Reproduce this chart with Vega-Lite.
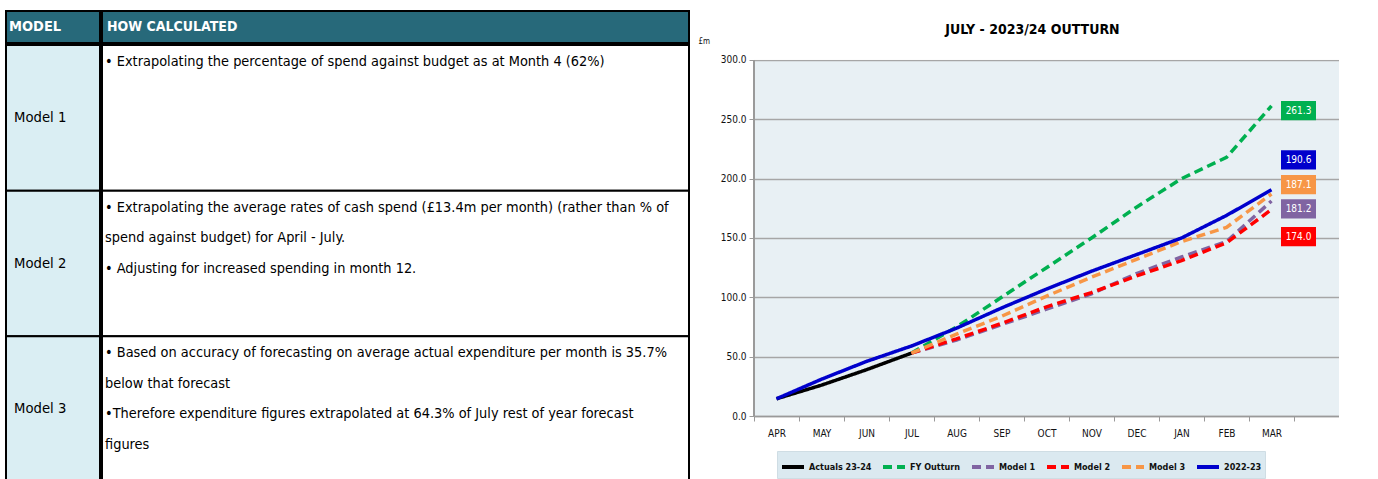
{
  "$schema": "https://vega.github.io/schema/vega-lite/v6.json",
  "background": "white",
  "padding": {"left": 5, "top": 10, "right": 0, "bottom": 0},
  "spacing": 8,
  "config": {
    "font": "DejaVu Sans Condensed, DejaVu Sans, sans-serif",
    "view": {"stroke": null}
  },
  "hconcat": [
    {
      "spacing": 0,
      "vconcat": [
        {
          "spacing": 0,
          "hconcat": [
            {
              "width": 94, "height": 32,
              "view": {"fill": "#27697a", "stroke": "black", "strokeWidth": 2},
              "data": {"values": [{"h": "MODEL"}]},
              "mark": {"type": "text", "align": "left", "baseline": "middle", "color": "white", "fontWeight": "bold", "fontSize": 14.5, "dx": 3},
              "encoding": {
                "x": {"datum": 0, "type": "quantitative", "scale": {"domain": [0, 1]}, "axis": null},
                "text": {"field": "h"}
              }
            },
            {
              "width": 587, "height": 32,
              "view": {"fill": "#27697a", "stroke": "black", "strokeWidth": 2},
              "data": {"values": [{"h": "HOW CALCULATED"}]},
              "mark": {"type": "text", "align": "left", "baseline": "middle", "color": "white", "fontWeight": "bold", "fontSize": 14, "dx": 5},
              "encoding": {
                "x": {"datum": 0, "type": "quantitative", "scale": {"domain": [0, 1]}, "axis": null},
                "text": {"field": "h"}
              }
            }
          ]
        },
        {
          "spacing": 0,
          "hconcat": [
            {
              "width": 94, "height": 437,
              "data": {"values": [{"model": "Model 1"}, {"model": "Model 2"}, {"model": "Model 3"}]},
              "layer": [
                {
                  "mark": {"type": "rect", "fill": "#daeef3", "stroke": "black", "strokeWidth": 2},
                  "encoding": {
                    "y": {"field": "model", "type": "nominal", "scale": {"paddingInner": 0, "paddingOuter": 0}, "axis": null}
                  }
                },
                {
                  "mark": {"type": "text", "align": "left", "baseline": "middle", "fontSize": 14.7, "color": "black", "dx": 8},
                  "encoding": {
                    "y": {"field": "model", "type": "nominal", "axis": null},
                    "x": {"datum": 0, "type": "quantitative", "scale": {"domain": [0, 1]}, "axis": null},
                    "text": {"field": "model"}
                  }
                }
              ]
            },
            {
              "width": 587, "height": 437,
              "data": {"values": [
                {"model": "Model 1", "desc": "• Extrapolating the percentage of spend against budget as at Month 4 (62%)"},
                {"model": "Model 2", "desc": "• Extrapolating the average rates of cash spend (£13.4m per month) (rather than % of\nspend against budget) for April - July.\n• Adjusting for increased spending in month 12."},
                {"model": "Model 3", "desc": "• Based on accuracy of forecasting on average actual expenditure per month is 35.7%\nbelow that forecast\n•Therefore expenditure figures extrapolated at 64.3% of July rest of year forecast\nfigures"}
              ]},
              "layer": [
                {
                  "mark": {"type": "rect", "fill": "white", "stroke": "black", "strokeWidth": 2},
                  "encoding": {
                    "y": {"field": "model", "type": "nominal", "scale": {"paddingInner": 0, "paddingOuter": 0}, "axis": null}
                  }
                },
                {
                  "mark": {"type": "text", "align": "left", "baseline": "alphabetic", "fontSize": 14.4, "color": "black", "dx": 3, "dy": 21, "lineBreak": "\n", "lineHeight": 30.5},
                  "encoding": {
                    "y": {"field": "model", "type": "nominal", "bandPosition": 0, "axis": null},
                    "x": {"datum": 0, "type": "quantitative", "scale": {"domain": [0, 1]}, "axis": null},
                    "text": {"field": "desc"}
                  }
                }
              ]
            }
          ]
        }
      ]
    },
    {
      "width": 585,
      "height": 405,
      "title": {"text": "JULY - 2023/24 OUTTURN", "fontSize": 14, "fontWeight": "bold", "color": "black", "offset": -26, "dx": -14},
      "view": {"fill": "#e8f0f4", "stroke": null},
      "data": {"values": [
        {"month": "APR", "series": "Actuals 23-24", "value": 14.5},
        {"month": "MAY", "series": "Actuals 23-24", "value": 26},
        {"month": "JUN", "series": "Actuals 23-24", "value": 39},
        {"month": "JUL", "series": "Actuals 23-24", "value": 53},
        {"month": "JUL", "series": "FY Outturn", "value": 53},
        {"month": "AUG", "series": "FY Outturn", "value": 75},
        {"month": "SEP", "series": "FY Outturn", "value": 100},
        {"month": "OCT", "series": "FY Outturn", "value": 125},
        {"month": "NOV", "series": "FY Outturn", "value": 150},
        {"month": "DEC", "series": "FY Outturn", "value": 176},
        {"month": "JAN", "series": "FY Outturn", "value": 200},
        {"month": "FEB", "series": "FY Outturn", "value": 218},
        {"month": "MAR", "series": "FY Outturn", "value": 261.3},
        {"month": "JUL", "series": "Model 1", "value": 53},
        {"month": "AUG", "series": "Model 1", "value": 64},
        {"month": "SEP", "series": "Model 1", "value": 77},
        {"month": "OCT", "series": "Model 1", "value": 90},
        {"month": "NOV", "series": "Model 1", "value": 103},
        {"month": "DEC", "series": "Model 1", "value": 120},
        {"month": "JAN", "series": "Model 1", "value": 134},
        {"month": "FEB", "series": "Model 1", "value": 147},
        {"month": "MAR", "series": "Model 1", "value": 181.2},
        {"month": "JUL", "series": "Model 2", "value": 53},
        {"month": "AUG", "series": "Model 2", "value": 65},
        {"month": "SEP", "series": "Model 2", "value": 78},
        {"month": "OCT", "series": "Model 2", "value": 92},
        {"month": "NOV", "series": "Model 2", "value": 104},
        {"month": "DEC", "series": "Model 2", "value": 118},
        {"month": "JAN", "series": "Model 2", "value": 131},
        {"month": "FEB", "series": "Model 2", "value": 146},
        {"month": "MAR", "series": "Model 2", "value": 174.0},
        {"month": "JUL", "series": "Model 3", "value": 53},
        {"month": "AUG", "series": "Model 3", "value": 69},
        {"month": "SEP", "series": "Model 3", "value": 84},
        {"month": "OCT", "series": "Model 3", "value": 101},
        {"month": "NOV", "series": "Model 3", "value": 117},
        {"month": "DEC", "series": "Model 3", "value": 132},
        {"month": "JAN", "series": "Model 3", "value": 147},
        {"month": "FEB", "series": "Model 3", "value": 159},
        {"month": "MAR", "series": "Model 3", "value": 187.1},
        {"month": "APR", "series": "2022-23", "value": 14.5},
        {"month": "MAY", "series": "2022-23", "value": 31},
        {"month": "JUN", "series": "2022-23", "value": 46},
        {"month": "JUL", "series": "2022-23", "value": 59},
        {"month": "AUG", "series": "2022-23", "value": 74},
        {"month": "SEP", "series": "2022-23", "value": 91},
        {"month": "OCT", "series": "2022-23", "value": 107},
        {"month": "NOV", "series": "2022-23", "value": 122},
        {"month": "DEC", "series": "2022-23", "value": 136},
        {"month": "JAN", "series": "2022-23", "value": 150},
        {"month": "FEB", "series": "2022-23", "value": 169},
        {"month": "MAR", "series": "2022-23", "value": 190.6}
      ]},
      "encoding": {
        "x": {
          "field": "month", "type": "ordinal",
          "sort": ["APR", "MAY", "JUN", "JUL", "AUG", "SEP", "OCT", "NOV", "DEC", "JAN", "FEB", "MAR"],
          "scale": {"type": "point", "padding": 0.5, "domain": ["APR", "MAY", "JUN", "JUL", "AUG", "SEP", "OCT", "NOV", "DEC", "JAN", "FEB", "MAR", " "]},
          "axis": {"title": null, "labelAngle": 0, "tickOffset": -22.5, "labelOffset": 22.5, "tickSize": 5, "tickColor": "#9a9a9a", "domainColor": "#9a9a9a", "domainWidth": 1.5, "labelFontSize": 10, "labelColor": "#111", "labelPadding": 7, "grid": false}
        },
        "y": {
          "field": "value", "type": "quantitative",
          "scale": {"domain": [0, 341.292], "nice": false},
          "axis": {"values": [0, 50, 100, 150, 200, 250, 300], "format": ".1f", "grid": true, "gridColor": "#a6a6a6", "gridWidth": 1.5, "domain": false, "tickColor": "#9a9a9a", "tickSize": 5, "labelFontSize": 10, "labelColor": "#111", "labelPadding": 3,
            "title": "£m", "titleAngle": 0, "titleX": -56, "titleY": 30, "titleAlign": "left", "titleBaseline": "middle", "titleFontSize": 8, "titleFontWeight": "normal", "titleColor": "#111"}
        }
      },
      "layer": [
        {
          "mark": {"type": "rect", "color": "white", "xOffset": -22.5, "x2Offset": 22.5},
          "encoding": {
            "x": {"datum": "APR"},
            "x2": {"datum": " "},
            "y": {"datum": 300.6},
            "y2": {"datum": 341.292}
          }
        },
        {
          "mark": {"type": "rule", "color": "#9a9a9a", "strokeWidth": 1.5, "xOffset": -22.5},
          "encoding": {
            "x": {"datum": "APR"},
            "y": {"datum": 0},
            "y2": {"datum": 300}
          }
        },
        {
          "mark": {"type": "line", "strokeWidth": 3.5, "strokeCap": "butt"},
          "encoding": {
            "color": {
              "field": "series", "type": "nominal",
              "scale": {"domain": ["Actuals 23-24", "FY Outturn", "Model 1", "Model 2", "Model 3", "2022-23"], "range": ["#000000", "#00b050", "#8064a2", "#ff0000", "#f79646", "#0000cc"]},
              "legend": {"orient": "none", "legendX": 771, "legendY": 440, "direction": "horizontal", "title": null, "fillColor": "#dbe9f0", "strokeColor": "#cfdde4", "padding": 3, "symbolType": "stroke", "symbolStrokeWidth": 4, "symbolSize": 484, "labelFontSize": 9, "labelFontWeight": "bold", "labelColor": "#111", "columnPadding": 3, "labelOffset": 3}
            },
            "strokeDash": {
              "field": "series", "type": "nominal",
              "scale": {"domain": ["Actuals 23-24", "FY Outturn", "Model 1", "Model 2", "Model 3", "2022-23"], "range": [[1, 0], [9, 5], [9, 5], [9, 5], [9, 5], [1, 0]]},
              "legend": {"orient": "none", "legendX": 771, "legendY": 440, "direction": "horizontal", "title": null, "fillColor": "#dbe9f0", "strokeColor": "#cfdde4", "padding": 3, "symbolType": "stroke", "symbolStrokeWidth": 4, "symbolSize": 484, "labelFontSize": 9, "labelFontWeight": "bold", "labelColor": "#111", "columnPadding": 3, "labelOffset": 3}
            }
          }
        },
        {
          "transform": [{"filter": "datum.series === 'FY Outturn' && datum.month === 'MAR'"}],
          "layer": [
            {"mark": {"type": "point", "shape": "M-1,-0.55H1V0.55H-1Z", "filled": true, "size": 1225, "color": "#00b050", "opacity": 1, "xOffset": 27, "yOffset": 4.7}},
            {"mark": {"type": "text", "color": "white", "fontSize": 10, "xOffset": 27, "yOffset": 4.7}, "encoding": {"text": {"field": "value", "format": ".1f"}}}
          ]
        },
        {
          "transform": [{"filter": "datum.series === '2022-23' && datum.month === 'MAR'"}],
          "layer": [
            {"mark": {"type": "point", "shape": "M-1,-0.55H1V0.55H-1Z", "filled": true, "size": 1225, "color": "#0000cc", "opacity": 1, "xOffset": 27, "yOffset": -30}},
            {"mark": {"type": "text", "color": "white", "fontSize": 10, "xOffset": 27, "yOffset": -30}, "encoding": {"text": {"field": "value", "format": ".1f"}}}
          ]
        },
        {
          "transform": [{"filter": "datum.series === 'Model 3' && datum.month === 'MAR'"}],
          "layer": [
            {"mark": {"type": "point", "shape": "M-1,-0.55H1V0.55H-1Z", "filled": true, "size": 1225, "color": "#f79646", "opacity": 1, "xOffset": 27, "yOffset": -9.4}},
            {"mark": {"type": "text", "color": "white", "fontSize": 10, "xOffset": 27, "yOffset": -9.4}, "encoding": {"text": {"field": "value", "format": ".1f"}}}
          ]
        },
        {
          "transform": [{"filter": "datum.series === 'Model 1' && datum.month === 'MAR'"}],
          "layer": [
            {"mark": {"type": "point", "shape": "M-1,-0.55H1V0.55H-1Z", "filled": true, "size": 1225, "color": "#8064a2", "opacity": 1, "xOffset": 27, "yOffset": 8}},
            {"mark": {"type": "text", "color": "white", "fontSize": 10, "xOffset": 27, "yOffset": 8}, "encoding": {"text": {"field": "value", "format": ".1f"}}}
          ]
        },
        {
          "transform": [{"filter": "datum.series === 'Model 2' && datum.month === 'MAR'"}],
          "layer": [
            {"mark": {"type": "point", "shape": "M-1,-0.55H1V0.55H-1Z", "filled": true, "size": 1225, "color": "#ff0000", "opacity": 1, "xOffset": 27, "yOffset": 27}},
            {"mark": {"type": "text", "color": "white", "fontSize": 10, "xOffset": 27, "yOffset": 27}, "encoding": {"text": {"field": "value", "format": ".1f"}}}
          ]
        }
      ]
    }
  ]
}
